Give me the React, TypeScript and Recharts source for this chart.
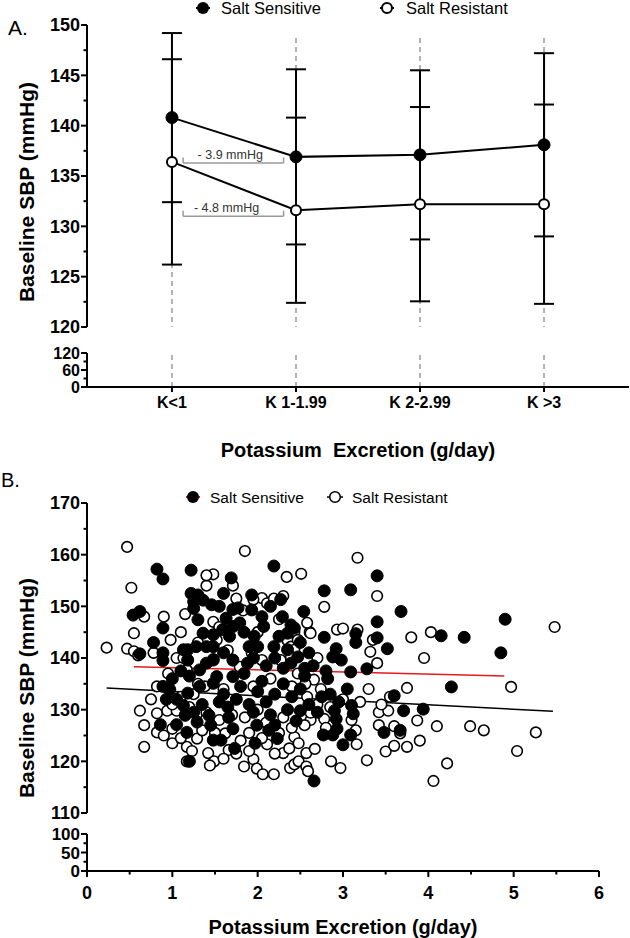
import React from 'react'
import {
  ComposedChart,
  ScatterChart,
  Line,
  Scatter,
  ErrorBar,
  XAxis,
  YAxis,
  ReferenceLine,
  ReferenceDot,
} from 'recharts'

// ---------- Panel A: baseline SBP by potassium group ----------
const kLabels = ['K<1', 'K 1-1.99', 'K 2-2.99', 'K >3']
const kPos = [1, 2, 3, 4]
const ssMean = [140.8, 136.9, 137.1, 138.1]
const ssSd = [8.4, 8.7, 8.4, 9.1]
const srMean = [136.4, 131.6, 132.2, 132.2]
const srSd = [10.2, 9.2, 9.65, 9.9]
const diffLabels = ['- 3.9 mmHg', '- 4.8 mmHg']

const aTicksUpper = [120, 122.5, 125, 127.5, 130, 132.5, 135, 137.5, 140, 142.5, 145, 147.5, 150]
const aTicksLower = [0, 30, 60, 90, 120]

// ---------- Panel B: scatter of SBP vs potassium excretion ----------
// [potassium g/day, SBP mmHg]
const ssPoints: [number, number][] = [
  [0.54, 148.3], [0.62, 149], [0.62, 140.8], [0.78, 143], [0.82, 157.2], [0.89, 155.3], [0.89, 145.8],
  [0.89, 141], [0.89, 139.5], [1.22, 157], [1.22, 152.5], [1.69, 155.5], [1.93, 152.2], [2.19, 157.8],
  [2.54, 149], [2.78, 153], [3.09, 153.2], [3.4, 155.9], [3.68, 149], [3.4, 147], [4.9, 147.5],
  [4.15, 144.3], [4.42, 144], [4.85, 141], [3.52, 141.8], [3.4, 143.9], [3.15, 143], [3.15, 144.7],
  [2.78, 144], [2.92, 141.8], [2.88, 140.2], [2.98, 139.6], [3.28, 137.9], [3.09, 137.3], [2.8, 137.5],
  [2.82, 136], [4.27, 134.4], [3.6, 132.7],
  [0.86, 127.1], [1.05, 127.1], [1.17, 125.6], [1.2, 120], [1.13, 130.8], [1.15, 128.9], [1.29, 127.6],
  [1.43, 128.9], [1.48, 124.1], [1.57, 124.1], [1.66, 128.5], [1.71, 126.3], [1.73, 122.5], [1.97, 123.5],
  [1.99, 127], [2.13, 126], [2.23, 124.4], [2.2, 127], [2.45, 127.8], [2.5, 129.8], [2.66, 116.2],
  [2.77, 125.1], [2.88, 125.1], [2.93, 126.3], [2.9, 129.8], [2.92, 128.2], [3.0, 123.2], [3.09, 125.1],
  [3.1, 130.8], [3.12, 129.2], [3.48, 125.6], [3.67, 126], [3.71, 129.8], [3.94, 130.1],
  [1.25, 150.9], [1.3, 152.2], [1.25, 149.6], [1.3, 147.4], [1.36, 151.2], [1.46, 150.3], [1.55, 150],
  [1.36, 144.8], [1.28, 142.2], [1.18, 141.6], [1.13, 141.6], [1.18, 139.6], [1.6, 152.5], [1.71, 149.4],
  [1.77, 149.7], [1.63, 147.7], [1.59, 145.5], [1.67, 144.2], [1.48, 144.5], [1.4, 142.2], [1.48, 142.2],
  [1.71, 146.1], [1.79, 146.8], [1.93, 149.3], [2.05, 148], [2.07, 146.1], [1.84, 145], [1.96, 144.2],
  [1.9, 142.2], [2.15, 150], [2.27, 151.3], [2.29, 148], [2.39, 146.4], [2.43, 145.8], [2.35, 144.8],
  [2.25, 144.2], [2.19, 142.2], [2.35, 141.6], [2.47, 140.2], [2.39, 139], [2.0, 142.2], [1.88, 139],
  [1.71, 139.6], [1.48, 139.6], [1.4, 139], [1.32, 137.7], [1.52, 136.4], [1.71, 136.4], [1.84, 137],
  [1.18, 133.2], [1.32, 134.5], [1.48, 135.1], [0.89, 134.5], [0.97, 133.9], [1.05, 132], [0.93, 132],
  [1.6, 133], [1.75, 132], [1.9, 131], [2.0, 133.5], [2.1, 131.5], [2.2, 133], [2.3, 135], [2.4, 132.5],
  [2.5, 134], [2.6, 131], [2.05, 135.5], [1.8, 134.5], [1.65, 130.5], [1.55, 131.5], [1.35, 131],
  [1.25, 129.5], [1.45, 127], [1.95, 129.5], [2.15, 129], [2.35, 130], [2.55, 136.5], [2.65, 138.5],
  [2.7, 129.5], [2.3, 138], [2.1, 138.5], [1.95, 140], [1.6, 141], [1.2, 136.5], [1.1, 137.5], [1.0, 136],
  [2.5, 143], [2.6, 141], [2.2, 140], [2.55, 138], [2.85, 133], [2.95, 131.5], [2.75, 132.5], [3.05, 134],
]

const srPoints: [number, number][] = [
  [0.23, 142], [0.47, 161.5], [0.52, 153.6], [0.55, 144.8], [0.47, 141.8], [0.55, 141.3], [0.6, 140.5],
  [0.67, 148], [0.9, 148], [0.78, 141], [1.48, 156.2], [1.4, 154], [1.85, 160.7], [2.34, 155.7],
  [2.51, 156.3], [2.05, 151.6], [3.17, 159.4], [3.4, 152], [2.78, 149.9], [5.48, 146], [4.03, 145],
  [3.8, 144], [3.95, 140], [3.35, 143.5], [3.32, 141.2], [3.4, 139], [2.93, 145.5], [3.0, 145.7],
  [3.17, 145.5], [2.61, 145], [2.7, 140], [2.66, 135.8], [2.74, 134], [2.58, 132.5], [3.75, 134.2],
  [4.97, 134.4],
  [0.62, 129.8], [0.67, 127], [0.67, 122.8], [0.82, 129.3], [0.82, 125.6], [0.9, 125], [0.94, 129.8],
  [1.05, 129.8], [1.0, 126.3], [1.17, 122.8], [1.17, 120], [1.23, 122], [1.29, 124.4], [1.29, 129.2],
  [1.42, 121.6], [1.49, 120], [1.44, 119.2], [1.62, 125.4], [1.66, 122.2], [1.84, 119], [1.95, 120.4],
  [1.99, 118.6], [2.06, 117.5], [2.19, 117.5], [2.11, 123.3], [2.3, 121.6], [2.38, 118.7], [2.43, 119.4],
  [2.48, 120], [2.37, 122.5], [2.43, 124.7], [2.48, 123.5], [2.57, 121.6], [2.57, 119], [2.59, 118.1],
  [2.67, 122.4], [2.62, 128], [2.62, 129.4], [2.78, 128.2], [2.86, 120], [2.97, 118.7], [3.16, 123.3],
  [3.28, 120.2], [3.42, 127], [3.42, 129.5], [3.5, 121.9], [3.53, 129.8], [3.6, 123], [3.6, 126.8],
  [3.67, 125.4], [3.75, 122.8], [3.87, 127.9], [3.9, 124], [4.06, 116.2], [4.1, 126.8], [4.22, 119.6],
  [4.49, 126.8], [4.65, 126], [5.04, 122], [5.26, 125.6],
  [1.4, 156], [1.48, 147], [1.52, 143.5], [1.48, 139.8], [1.71, 154], [1.75, 151.5], [1.83, 149.2],
  [1.95, 151.3], [2.11, 150.6], [2.19, 151.5], [2.25, 147.5], [2.35, 143.4], [2.39, 142.2], [2.43, 145.1],
  [2.58, 146.8], [2.62, 144.8], [2.47, 143.5], [2.43, 141.6], [0.82, 134.5], [1.05, 140], [1.13, 140],
  [1.17, 137.7], [1.18, 139.6], [1.3, 135], [1.38, 134.5], [1.71, 139.6], [1.79, 138.3], [1.93, 141],
  [2.05, 139.6], [2.27, 139.6], [2.39, 140.2], [2.47, 137], [2.56, 135], [1.0, 131], [1.1, 132.5],
  [1.2, 130.5], [1.4, 129.5], [1.55, 128], [1.7, 129], [1.85, 128.5], [2.0, 130], [2.1, 127.5],
  [2.3, 128.5], [2.4, 126.5], [2.55, 127], [1.8, 124], [1.9, 125.5], [2.05, 124.5], [2.25, 125.5],
  [1.35, 126], [1.5, 125.5], [1.6, 120.5], [1.75, 121.5], [1.9, 122], [2.2, 121.5], [1.0, 123.5],
  [1.1, 124.5], [2.7, 131], [2.85, 130.5], [3.0, 132], [3.1, 128], [3.2, 131.5], [3.3, 134], [3.45, 131],
  [3.55, 132.5], [3.15, 126], [2.8, 126.5], [0.75, 132], [0.95, 137], [1.25, 133], [1.6, 134],
  [1.95, 134.5], [2.15, 136], [2.4, 134.5], [1.55, 146], [1.65, 141.5], [2.0, 145], [2.3, 152], [1.1, 145],
  [1.3, 143], [0.98, 143.5], [1.15, 148.5],
]

// regression line end points
const ssFit = [[0.55, 138.3], [4.89, 136.5]]
const srFit = [[0.23, 134.2], [5.46, 129.7]]

const bTicksX = [0, 0.5, 1, 1.5, 2, 2.5, 3, 3.5, 4, 4.5, 5, 5.5, 6]
const bTicksUpper = [110, 115, 120, 125, 130, 135, 140, 145, 150, 155, 160, 165, 170]
const bTicksLower = [0, 25, 50, 75, 100]

const FONT = '"Liberation Sans", Arial, Helvetica, sans-serif'
const TS = 5
const TM = 2

const aData = kPos.map((k, i) => ({ k, ss: ssMean[i], ssSd: ssSd[i], sr: srMean[i], srSd: srSd[i] }))
const ssData = ssPoints.map(([x, y]) => ({ x, y }))
const srData = srPoints.map(([x, y]) => ({ x, y }))

const isMajor = (v: number, step: number) => Math.abs(v / step - Math.round(v / step)) < 1e-6

const makeYTick = (step: number, size = 18) => (props: any) => {
  const { x, y, payload } = props
  const ax = x + TS + TM
  const major = isMajor(payload.value, step)
  return (
    <g>
      <line x1={ax - (major ? 6 : 3.5)} x2={ax} y1={y} y2={y} stroke="#000" strokeWidth={2} />
      {major && (
        <text x={ax - 7} y={y + size * 0.355} textAnchor="end" fontFamily={FONT} fontWeight="bold" fontSize={size} fill="#000">
          {payload.value}
        </text>
      )}
    </g>
  )
}

const aXTick = (props: any) => {
  const { x, y, payload } = props
  const ay = y - TS - TM
  const idx = kPos.indexOf(payload.value)
  return (
    <g>
      <line x1={x} x2={x} y1={ay} y2={ay + 5} stroke="#000" strokeWidth={2} />
      <text x={x} y={ay + 20.5} textAnchor="middle" fontFamily={FONT} fontWeight="bold" fontSize={16} fill="#000">
        {kLabels[idx]}
      </text>
    </g>
  )
}

const bXTick = (props: any) => {
  const { x, y, payload } = props
  const ay = y - TS - TM
  const major = isMajor(payload.value, 1)
  return (
    <g>
      <line x1={x} x2={x} y1={ay} y2={ay + (major ? 6 : 3.5)} stroke="#000" strokeWidth={2} />
      {major && (
        <text x={x} y={ay + 27.5} textAnchor="middle" fontFamily={FONT} fontWeight="bold" fontSize={18} fill="#000">
          {payload.value}
        </text>
      )}
    </g>
  )
}

const filledDot = (p: any) => <circle cx={p.cx} cy={p.cy} r={6} fill="#000" stroke="#000" strokeWidth={1} />
const openDot = (p: any) => <circle cx={p.cx} cy={p.cy} r={5.3} fill="#fff" stroke="#000" strokeWidth={1.6} />
const noDot = () => <g />

const axisLine = { stroke: '#000', strokeWidth: 2 }
const gridStroke = '#b3b3b3'

function Overlay() {
  const bold = { fontFamily: FONT, fontWeight: 'bold' as const, fill: '#000' }
  const reg = { fontFamily: FONT, fill: '#000' }
  return (
    <svg width={630} height={938} style={{ position: 'absolute', left: 0, top: 0, pointerEvents: 'none' }}>
      <text x={8} y={35} fontSize={21} {...reg}>A.</text>
      <text x={1} y={487} fontSize={20} {...reg}>B.</text>

      {/* legend A */}
      <line x1={196} x2={210} y1={8} y2={8} stroke="#000" strokeWidth={2} />
      <circle cx={203} cy={8} r={6} fill="#000" />
      <text x={221} y={14} fontSize={16.5} {...reg}>Salt Sensitive</text>
      <line x1={380} x2={394} y1={8} y2={8} stroke="#000" strokeWidth={2} />
      <circle cx={387} cy={8} r={5} fill="#fff" stroke="#000" strokeWidth={2} />
      <text x={406} y={14} fontSize={16.5} {...reg}>Salt Resistant</text>

      {/* legend B */}
      <line x1={186} x2={200} y1={497} y2={497} stroke="#e8191c" strokeWidth={2} />
      <circle cx={193} cy={497} r={6} fill="#000" />
      <text x={210} y={502.5} fontSize={15.5} {...reg}>Salt Sensitive</text>
      <line x1={327} x2={343} y1={497} y2={497} stroke="#000" strokeWidth={1.5} />
      <circle cx={335} cy={497} r={5.3} fill="#fff" stroke="#000" strokeWidth={1.6} />
      <text x={352} y={502.5} fontSize={15.5} {...reg}>Salt Resistant</text>

      {/* axis titles */}
      <text x={358} y={457} fontSize={20} textAnchor="middle" style={{ whiteSpace: 'pre' }} {...bold}>
        Potassium  Excretion (g/day)
      </text>
      <text x={343} y={934} fontSize={20} textAnchor="middle" {...bold}>Potassium Excretion (g/day)</text>
      <text transform="translate(34,192) rotate(-90)" fontSize={21} textAnchor="middle" {...bold}>
        Baseline SBP (mmHg)
      </text>
      <text transform="translate(34,688) rotate(-90)" fontSize={21} textAnchor="middle" {...bold}>
        Baseline SBP (mmHg)
      </text>
    </svg>
  )
}

export default function App() {
  const aDomain: [number, number] = [0.315, 4.685]
  const bracketStroke = '#9a9a9a'
  return (
    <div style={{ position: 'absolute', left: 0, top: 0, width: 630, height: 938, background: '#fff' }}>
      {/* Panel A upper segment */}
      <div style={{ position: 'absolute', left: 0, top: 0 }}>
        <ComposedChart width={630} height={340} data={aData} margin={{ top: 25, right: 1, bottom: 13, left: 0 }}>
          <XAxis dataKey="k" type="number" domain={aDomain} ticks={kPos} hide />
          <YAxis
            type="number"
            domain={[120, 150]}
            ticks={aTicksUpper}
            interval={0}
            width={87}
            axisLine={axisLine}
            tickLine={false}
            tickSize={TS}
            tickMargin={TM}
            tick={makeYTick(5)}
          />
          {kPos.map((k) => (
            <ReferenceLine
              key={k}
              segment={[{ x: k, y: 148.7 }, { x: k, y: 120 }]}
              stroke={gridStroke}
              strokeWidth={2}
              strokeDasharray="5 4"
            />
          ))}
          {/* difference brackets */}
          <ReferenceLine segment={[{ x: 1.09, y: 136.3 }, { x: 1.9, y: 136.3 }]} stroke={bracketStroke} strokeWidth={1.5} />
          <ReferenceLine segment={[{ x: 1.09, y: 136.3 }, { x: 1.09, y: 136.85 }]} stroke={bracketStroke} strokeWidth={1.5} />
          <ReferenceLine segment={[{ x: 1.9, y: 136.3 }, { x: 1.9, y: 136.85 }]} stroke={bracketStroke} strokeWidth={1.5} />
          <ReferenceLine segment={[{ x: 1.09, y: 131.0 }, { x: 1.9, y: 131.0 }]} stroke={bracketStroke} strokeWidth={1.5} />
          <ReferenceLine segment={[{ x: 1.09, y: 131.0 }, { x: 1.09, y: 131.55 }]} stroke={bracketStroke} strokeWidth={1.5} />
          <ReferenceLine segment={[{ x: 1.9, y: 131.0 }, { x: 1.9, y: 131.55 }]} stroke={bracketStroke} strokeWidth={1.5} />
          <ReferenceDot
            x={1.47}
            y={136.3}
            r={0}
            fill="none"
            stroke="none"
            label={{ value: diffLabels[0], position: 'top', offset: 4, fontSize: 12.5, fill: '#333', fontFamily: FONT }}
          />
          <ReferenceDot
            x={1.44}
            y={131.0}
            r={0}
            fill="none"
            stroke="none"
            label={{ value: diffLabels[1], position: 'top', offset: 4, fontSize: 12.5, fill: '#333', fontFamily: FONT }}
          />
          <Line
            dataKey="ss"
            type="linear"
            stroke="#000"
            strokeWidth={2}
            dot={{ r: 6, fill: '#000', stroke: '#000', strokeWidth: 1 }}
            isAnimationActive={false}
          >
            <ErrorBar dataKey="ssSd" direction="y" width={10} stroke="#000" strokeWidth={2} isAnimationActive={false} />
          </Line>
          <Line
            dataKey="sr"
            type="linear"
            stroke="#000"
            strokeWidth={2}
            dot={{ r: 5, fill: '#fff', stroke: '#000', strokeWidth: 2 }}
            isAnimationActive={false}
          >
            <ErrorBar dataKey="srSd" direction="y" width={10} stroke="#000" strokeWidth={2} isAnimationActive={false} />
          </Line>
        </ComposedChart>
      </div>

      {/* Panel A lower segment + x axis */}
      <div style={{ position: 'absolute', left: 0, top: 330 }}>
        <ComposedChart width={630} height={140} data={aData} margin={{ top: 23, right: 1, bottom: 0, left: 0 }}>
          <XAxis
            dataKey="k"
            type="number"
            domain={aDomain}
            ticks={kPos}
            interval={0}
            height={83}
            axisLine={axisLine}
            tickLine={false}
            tickSize={TS}
            tickMargin={TM}
            tick={aXTick}
          />
          <YAxis
            type="number"
            domain={[0, 120]}
            allowDataOverflow
            ticks={aTicksLower}
            interval={0}
            width={87}
            axisLine={axisLine}
            tickLine={false}
            tickSize={TS}
            tickMargin={TM}
            tick={makeYTick(60, 16)}
          />
          {kPos.map((k) => (
            <ReferenceLine key={k} x={k} stroke={gridStroke} strokeWidth={2} strokeDasharray="5 4" />
          ))}
          {/* off-scale carrier series so the axis scale exists */}
          <Line dataKey="ss" stroke="none" dot={false} activeDot={false} legendType="none" isAnimationActive={false} />
        </ComposedChart>
      </div>

      {/* Panel B upper segment */}
      <div style={{ position: 'absolute', left: 0, top: 470 }}>
        <ScatterChart width={630} height={360} margin={{ top: 33, right: 31, bottom: 17, left: 0 }}>
          <XAxis dataKey="x" type="number" domain={[0, 6]} hide />
          <YAxis
            dataKey="y"
            type="number"
            domain={[110, 170]}
            ticks={bTicksUpper}
            interval={0}
            width={87}
            axisLine={axisLine}
            tickLine={false}
            tickSize={TS}
            tickMargin={TM}
            tick={makeYTick(10)}
          />
          <Scatter data={srData} shape={openDot} isAnimationActive={false} />
          <Scatter data={ssData} shape={filledDot} isAnimationActive={false} />
          <ReferenceLine
            segment={[{ x: srFit[0][0], y: srFit[0][1] }, { x: srFit[1][0], y: srFit[1][1] }]}
            stroke="#000"
            strokeWidth={1.5}
          />
          <ReferenceLine
            segment={[{ x: ssFit[0][0], y: ssFit[0][1] }, { x: ssFit[1][0], y: ssFit[1][1] }]}
            stroke="#e8191c"
            strokeWidth={1.5}
          />
        </ScatterChart>
      </div>

      {/* Panel B lower segment + x axis */}
      <div style={{ position: 'absolute', left: 0, top: 816 }}>
        <ScatterChart width={630} height={122} margin={{ top: 18, right: 31, bottom: 0, left: 0 }}>
          <XAxis
            dataKey="x"
            type="number"
            domain={[0, 6]}
            allowDataOverflow
            ticks={bTicksX}
            interval={0}
            height={67}
            axisLine={axisLine}
            tickLine={false}
            tickSize={TS}
            tickMargin={TM}
            tick={bXTick}
          />
          <YAxis
            dataKey="y"
            type="number"
            domain={[0, 100]}
            allowDataOverflow
            ticks={bTicksLower}
            interval={0}
            width={87}
            axisLine={axisLine}
            tickLine={false}
            tickSize={TS}
            tickMargin={TM}
            tick={makeYTick(50, 17)}
          />
          {/* off-scale carrier series so the axis scale exists */}
          <Scatter data={ssData} shape={noDot} isAnimationActive={false} />
        </ScatterChart>
      </div>

      <Overlay />
    </div>
  )
}
